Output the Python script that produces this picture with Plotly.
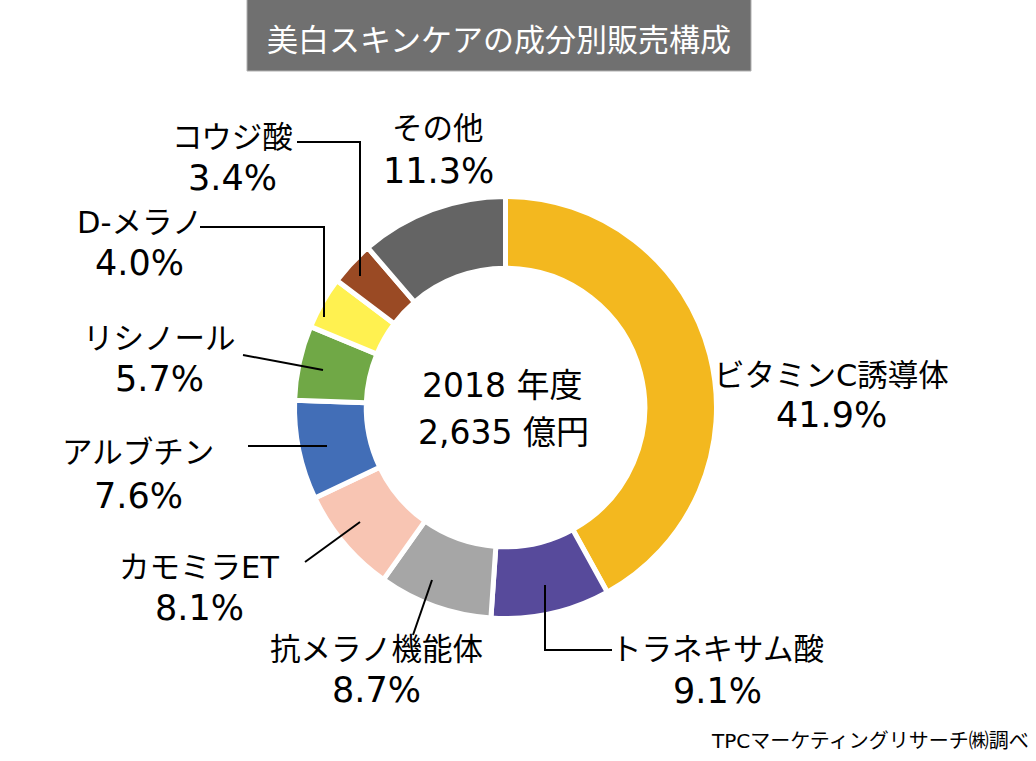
import plotly.graph_objects as go

W, H = 1036, 761

categories = ["ビタミンC誘導体", "トラネキサム酸", "抗メラノ機能体", "カモミラET",
              "アルブチン", "リシノール", "D-メラノ", "コウジ酸", "その他"]
shares = [41.9, 9.1, 8.7, 8.1, 7.6, 5.7, 4.0, 3.4, 11.3]
colors = ["#F3B81F", "#574A9B", "#A6A6A6", "#F8C5B3", "#426EB7",
          "#70A846", "#FFF150", "#9A4A24", "#646464"]
pct_labels = [f"{v:.1f}%" for v in shares]

title_text = "美白スキンケアの成分別販売構成"
center_text = ["2018 年度", "2,635 億円"]
source_text = "TPCマーケティングリサーチ㈱調べ"

# label positions (pixels): (x, y of name line, y of percent line)
label_pos = [(831, 375, 415), (717, 649, 691), (376, 649, 690), (199, 567, 608),
             (138, 452, 496), (159, 338, 379), (139, 222, 263), (232, 137, 178),
             (438, 128, 171)]
# leader line polylines (pixels)
leaders = [None,
           [(545, 585), (545, 650), (612, 650)],
           [(432, 580), (413, 635)],
           [(360, 522), (305, 562)],
           [(327, 446), (248, 446)],
           [(323, 370), (243, 355)],
           [(324, 317), (324, 227), (200, 227)],
           [(360, 276), (360, 142), (297, 142)],
           None]

def px(x):
    return x / W

def py(y):
    return 1 - y / H

cx, cy, R = 505.5, 407.5, 211
FONT = "DejaVu Sans, Noto Sans CJK JP, sans-serif"
JFONT = "Noto Sans CJK JP, sans-serif"

fig = go.Figure(go.Pie(
    labels=categories, values=shares, sort=False, direction="clockwise",
    rotation=0, hole=0.66, textinfo="none", hoverinfo="skip",
    marker=dict(colors=colors, line=dict(color="white", width=5)),
    domain=dict(x=[px(cx - R), px(cx + R)], y=[py(cy + R), py(cy - R)]),
    showlegend=False,
))

shapes = [dict(type="rect", xref="paper", yref="paper",
               x0=px(247), x1=px(751), y0=py(71), y1=py(-2),
               fillcolor="#707070", line=dict(color="#B0B0B0", width=1), layer="below")]
for pts in leaders:
    if not pts:
        continue
    path = "M " + " L ".join(f"{px(x)},{py(y)}" for x, y in pts)
    shapes.append(dict(type="path", xref="paper", yref="paper", path=path,
                       line=dict(color="black", width=2)))

def ann(text, x, y, size, family=FONT, color="black", xanchor="center"):
    return dict(text=text, x=px(x), y=py(y), xref="paper", yref="paper",
                xanchor=xanchor, yanchor="middle", showarrow=False,
                font=dict(family=family, size=size, color=color))

annotations = [ann(title_text, 499, 37, 31, family=JFONT, color="white")]
for name, pct, (x, y1, y2) in zip(categories, pct_labels, label_pos):
    annotations.append(ann(name, x, y1, 30.5))
    annotations.append(ann(pct, x, y2, 35))
annotations.append(ann(center_text[0], 502, 385, 33))
annotations.append(ann(center_text[1], 503, 432, 33))
annotations.append(ann(source_text, 1031, 741, 20, xanchor="right"))

fig.update_layout(width=W, height=H, autosize=False,
                  margin=dict(l=0, r=0, t=0, b=0),
                  paper_bgcolor="white", plot_bgcolor="white",
                  shapes=shapes, annotations=annotations)

fig.write_html("out.html", config={"displayModeBar": False},
               post_script="document.body.style.margin='0';")
